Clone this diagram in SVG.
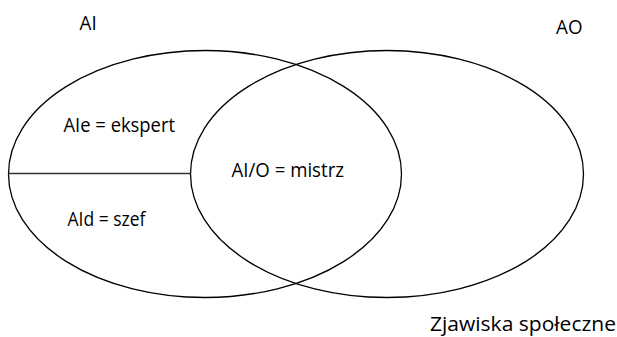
<svg xmlns="http://www.w3.org/2000/svg" width="617" height="337" viewBox="0 0 617 337">
<style>
.set{fill:none;stroke:#000;stroke-width:1.3}
.lbl{font-family:"Open Sans","Noto Sans",sans-serif;font-size:20.5px;fill:#000}
.div{stroke:#333;stroke-width:1.3}
</style>
<rect width="617" height="337" fill="#fff"/>
<g id="set-AI">
<ellipse class="set" cx="205" cy="174" rx="196.5" ry="123.5"/>
<text class="lbl" x="79.5" y="29.5" textLength="17.2" lengthAdjust="spacingAndGlyphs">AI</text>
</g>
<g id="set-AO">
<ellipse class="set" cx="387" cy="174" rx="196.5" ry="123.5"/>
<text class="lbl" x="556" y="33.5" textLength="26.5" lengthAdjust="spacingAndGlyphs">AO</text>
</g>
<g id="connectors">
<line class="div" x1="8.5" y1="173.5" x2="190.6" y2="173.5"/>
</g>
<g id="region-AIe">
<text class="lbl" x="63.5" y="131.5" textLength="111.5" lengthAdjust="spacingAndGlyphs">AIe = ekspert</text>
</g>
<g id="region-AId">
<text class="lbl" x="67.5" y="226" textLength="78" lengthAdjust="spacingAndGlyphs">AId = szef</text>
</g>
<g id="region-AIO">
<text class="lbl" x="231.5" y="176.5" textLength="112.5" lengthAdjust="spacingAndGlyphs">AI/O = mistrz</text>
</g>
<g id="universe">
<text class="lbl" x="430" y="331" textLength="186" lengthAdjust="spacingAndGlyphs">Zjawiska społeczne</text>
</g>
</svg>
